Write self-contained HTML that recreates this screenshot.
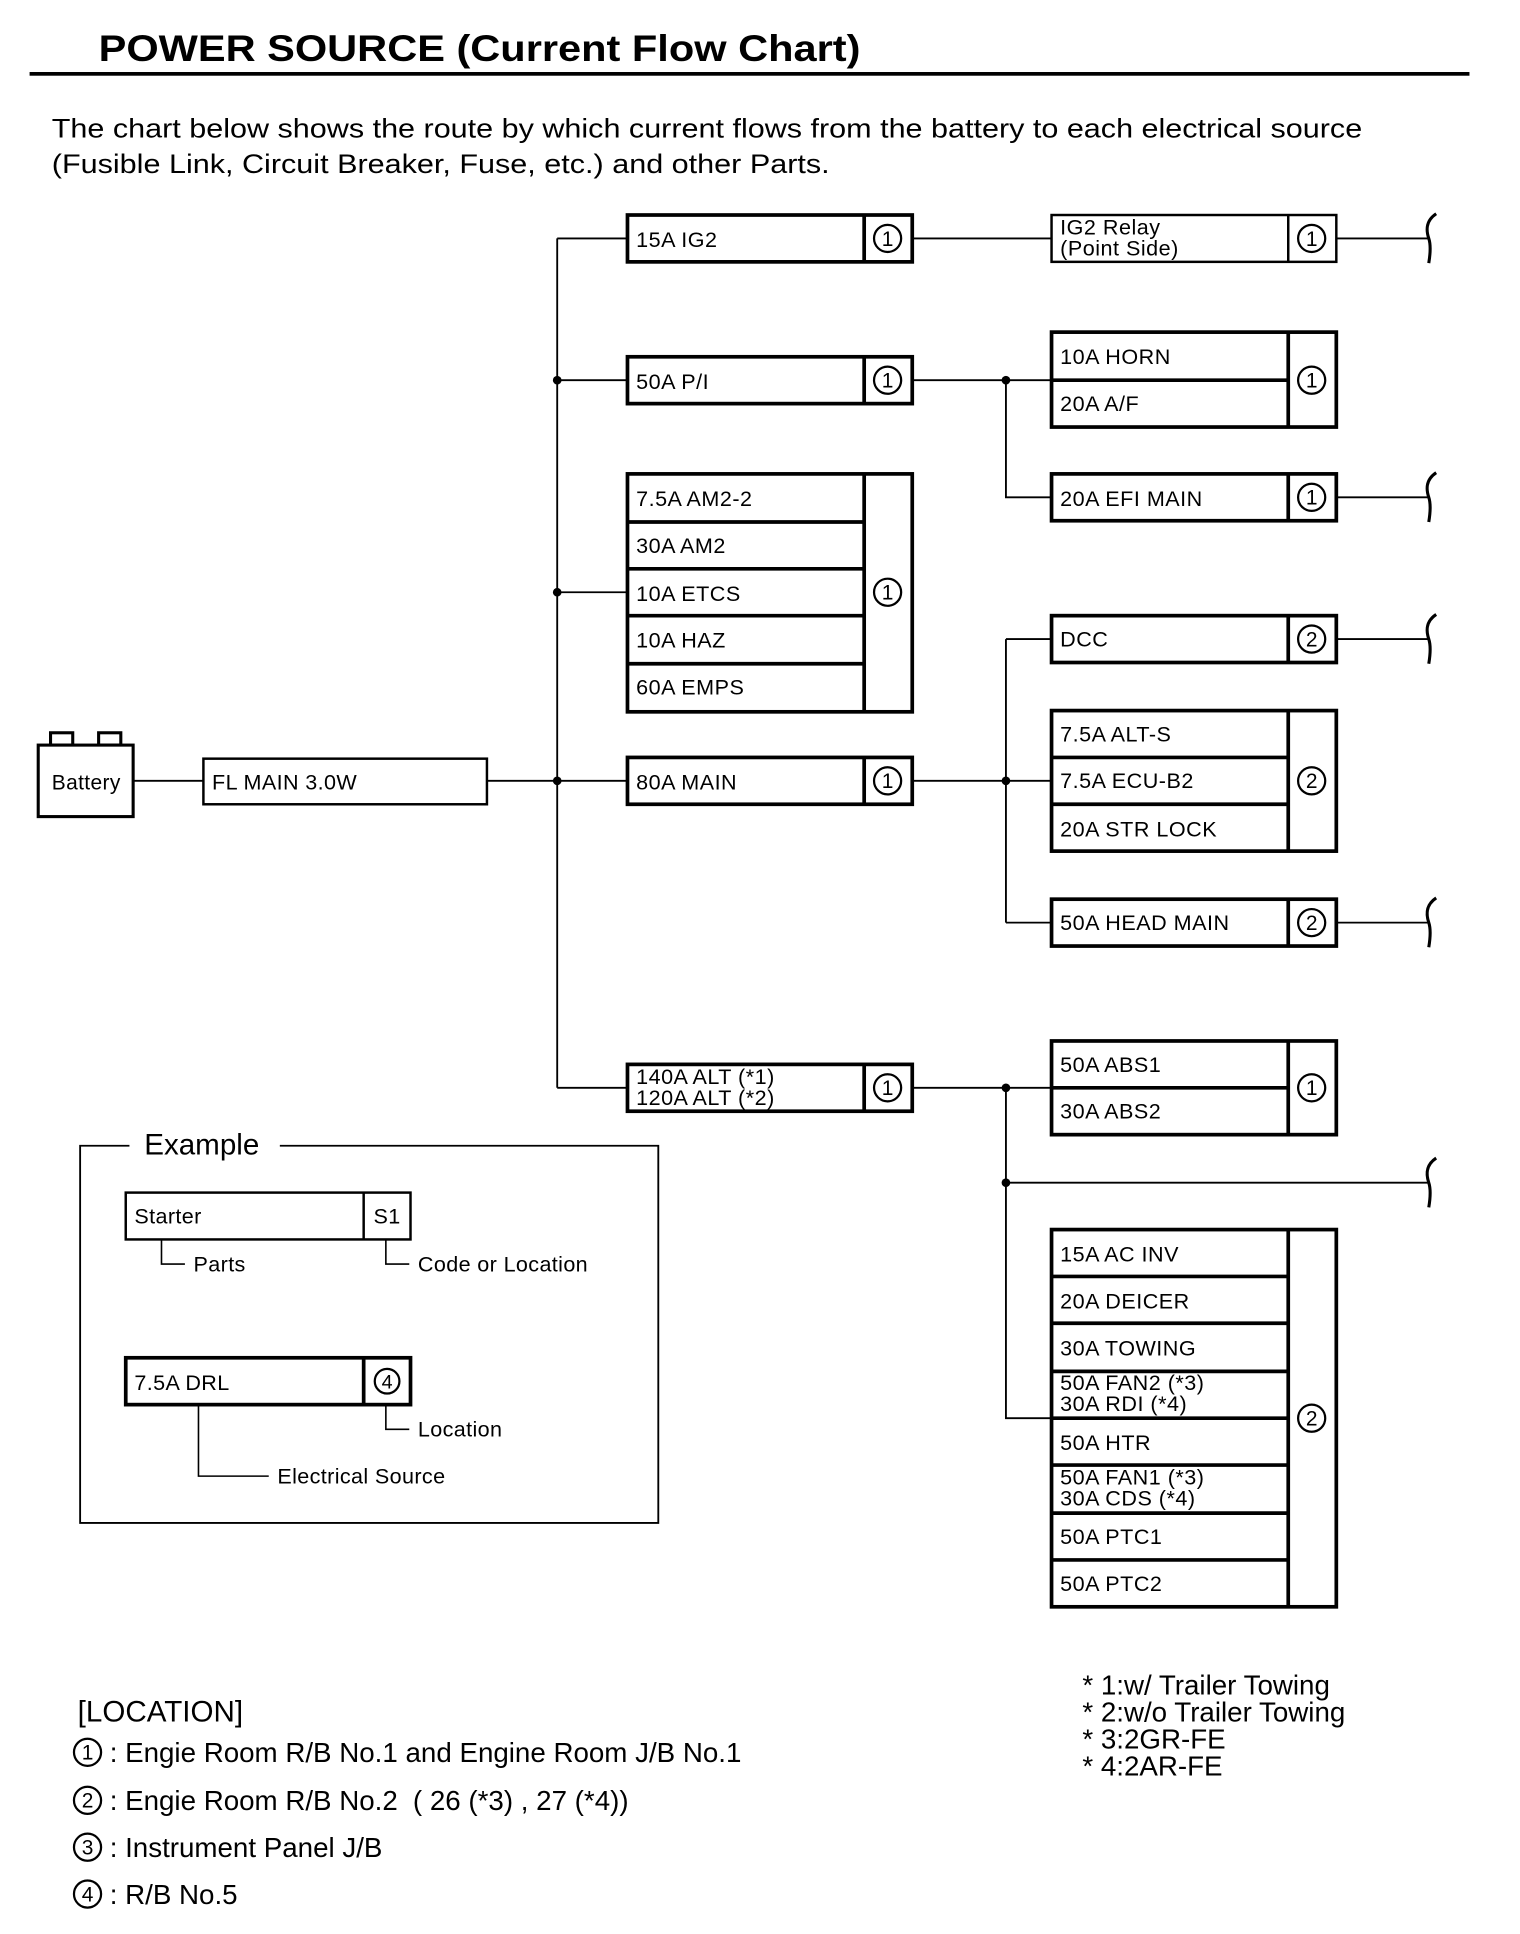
<!DOCTYPE html>
<html><head><meta charset="utf-8"><style>
html,body{margin:0;padding:0;background:#fff;}
svg{display:block}
text{font-family:"Liberation Sans",Arial,sans-serif;fill:#000}
</style></head><body>
<svg width="1520" height="1934" viewBox="0 0 1233 1568" xmlns="http://www.w3.org/2000/svg">
<defs>
<path id="sq" d="M2 -20 C-7 -14 -6 -6 -4 0 C-2 6 -3 14 -4 20" fill="none" stroke="#000" stroke-width="2.5"/>
</defs>
<text x="80" y="49" font-size="30" font-weight="bold" textLength="618" lengthAdjust="spacingAndGlyphs">POWER SOURCE (Current Flow Chart)</text>
<rect x="24" y="58" width="1168" height="3" fill="#000"/>
<text x="42" y="111" font-size="22" textLength="1063" lengthAdjust="spacingAndGlyphs">The chart below shows the route by which current flows from the battery to each electrical source</text>
<text x="42" y="140" font-size="22" textLength="631" lengthAdjust="spacingAndGlyphs">(Fusible Link, Circuit Breaker, Fuse, etc.) and other Parts.</text>

<g stroke="#000" fill="none" stroke-width="1.5">
<path d="M452 193 V882 M452 193 H509 M452 308 H509 M452 480 H509 M452 633 H509 M452 882 H509"/>
<path d="M108 633 H165 M395 633 H452"/>
<path d="M740 193 H853 M740 308 H853 M816 308 V403 H853 M740 633 H853 M816 518 V748 M816 518 H853 M816 748 H853"/>
<path d="M740 882 H853 M816 882 V1150 H853 M816 959 H1160"/>
<path d="M1084 193 H1160 M1084 403 H1160 M1084 518 H1160 M1084 748 H1160"/>
</g>
<g fill="#000">
<circle cx="452" cy="308" r="3.5"/><circle cx="452" cy="480" r="3.5"/><circle cx="452" cy="633" r="3.5"/>
<circle cx="816" cy="308" r="3.5"/><circle cx="816" cy="633" r="3.5"/><circle cx="816" cy="882" r="3.5"/><circle cx="816" cy="959" r="3.5"/>
</g>
<use href="#sq" x="1163" y="193"/><use href="#sq" x="1163" y="403"/><use href="#sq" x="1163" y="518"/><use href="#sq" x="1163" y="748"/><use href="#sq" x="1163" y="959"/>

<g stroke="#000" stroke-width="2.5" fill="#fff">
<rect x="41" y="594" width="18" height="10"/><rect x="80" y="594" width="18" height="10"/>
<rect x="31" y="604" width="77" height="58"/>
<rect x="165" y="615" width="230" height="37" stroke-width="2"/>
</g>
<g font-size="17.5" letter-spacing="0.3">
<text x="42" y="640" font-size="17">Battery</text>
<text x="172" y="640">FL MAIN 3.0W</text>
</g>

<g stroke="#000" fill="none" stroke-width="3">
<rect x="509" y="174" width="231" height="38"/><path d="M701 174 V212"/>
<rect x="509" y="289" width="231" height="38"/><path d="M701 289 V327"/>
<rect x="509" y="384" width="231" height="193"/><path d="M701 384 V577 M509 423 H701 M509 461 H701 M509 499 H701 M509 538 H701"/>
<rect x="509" y="614" width="231" height="38"/><path d="M701 614 V652"/>
<rect x="509" y="863" width="231" height="38"/><path d="M701 863 V901"/>
<rect x="853" y="174" width="231" height="38" stroke-width="2"/><path d="M1045 174 V212" stroke-width="2"/>
<rect x="853" y="269" width="231" height="77"/><path d="M1045 269 V346 M853 308 H1045"/>
<rect x="853" y="384" width="231" height="38"/><path d="M1045 384 V422"/>
<rect x="853" y="499" width="231" height="38"/><path d="M1045 499 V537"/>
<rect x="853" y="576" width="231" height="114"/><path d="M1045 576 V690 M853 614 H1045 M853 652 H1045"/>
<rect x="853" y="729" width="231" height="38"/><path d="M1045 729 V767"/>
<rect x="853" y="844" width="231" height="76"/><path d="M1045 844 V920 M853 882 H1045"/>
<rect x="853" y="997" width="231" height="306"/><path d="M1045 997 V1303 M853 1035 H1045 M853 1073 H1045 M853 1112 H1045 M853 1150 H1045 M853 1188 H1045 M853 1227 H1045 M853 1265 H1045"/>
</g>
<g stroke="#000" fill="none" stroke-width="1.8">
<circle cx="720" cy="193" r="11"/><circle cx="720" cy="308" r="11"/><circle cx="720" cy="480" r="11"/><circle cx="720" cy="633" r="11"/><circle cx="720" cy="882" r="11"/>
<circle cx="1064" cy="193" r="11"/><circle cx="1064" cy="308" r="11"/><circle cx="1064" cy="403" r="11"/><circle cx="1064" cy="518" r="11"/><circle cx="1064" cy="633" r="11"/><circle cx="1064" cy="748" r="11"/><circle cx="1064" cy="882" r="11"/><circle cx="1064" cy="1150" r="11"/>
</g>
<g font-size="17" text-anchor="middle">
<text x="720" y="199">1</text><text x="720" y="314">1</text><text x="720" y="486">1</text><text x="720" y="639">1</text><text x="720" y="888">1</text>
<text x="1064" y="199">1</text><text x="1064" y="314">1</text><text x="1064" y="409">1</text><text x="1064" y="524">2</text><text x="1064" y="639">2</text><text x="1064" y="754">2</text><text x="1064" y="888">1</text><text x="1064" y="1156">2</text>
</g>
<g font-size="17.5" letter-spacing="0.4">
<text x="516" y="200">15A IG2</text>
<text x="516" y="315">50A P/I</text>
<text x="516" y="410">7.5A AM2-2</text>
<text x="516" y="448">30A AM2</text>
<text x="516" y="487">10A ETCS</text>
<text x="516" y="525">10A HAZ</text>
<text x="516" y="563">60A EMPS</text>
<text x="516" y="640">80A MAIN</text>
<text x="516" y="879">140A ALT (*1)</text>
<text x="516" y="896">120A ALT (*2)</text>
<text x="860" y="190">IG2 Relay</text>
<text x="860" y="207">(Point Side)</text>
<text x="860" y="295">10A HORN</text>
<text x="860" y="333">20A A/F</text>
<text x="860" y="410">20A EFI MAIN</text>
<text x="860" y="524">DCC</text>
<text x="860" y="601">7.5A ALT-S</text>
<text x="860" y="639">7.5A ECU-B2</text>
<text x="860" y="678">20A STR LOCK</text>
<text x="860" y="754">50A HEAD MAIN</text>
<text x="860" y="869">50A ABS1</text>
<text x="860" y="907">30A ABS2</text>
<text x="860" y="1023">15A AC INV</text>
<text x="860" y="1061">20A DEICER</text>
<text x="860" y="1099">30A TOWING</text>
<text x="860" y="1127">50A FAN2 (*3)</text>
<text x="860" y="1144">30A RDI (*4)</text>
<text x="860" y="1176">50A HTR</text>
<text x="860" y="1204">50A FAN1 (*3)</text>
<text x="860" y="1221">30A CDS (*4)</text>
<text x="860" y="1252">50A PTC1</text>
<text x="860" y="1290">50A PTC2</text>
</g>

<path d="M105 929 H65 V1235 H534 V929 H227" stroke="#000" stroke-width="1.5" fill="none"/>
<text x="117" y="936" font-size="24">Example</text>
<g stroke="#000" fill="none">
<rect x="102" y="967" width="231" height="38" stroke-width="2"/><path d="M295 967 V1005" stroke-width="2"/>
<rect x="102" y="1101" width="231" height="38" stroke-width="3"/><path d="M295 1101 V1139" stroke-width="3"/>
<circle cx="314" cy="1120" r="10" stroke-width="1.8"/>
<path d="M131 1005 V1025 H150 M313 1005 V1025 H332 M161 1139 V1197 H218 M313 1139 V1159 H332" stroke-width="1.3"/>
</g>
<g font-size="17.5" letter-spacing="0.3">
<text x="109" y="992">Starter</text>
<text x="303" y="992">S1</text>
<text x="157" y="1031">Parts</text>
<text x="339" y="1031">Code or Location</text>
<text x="109" y="1127">7.5A DRL</text>
<text x="339" y="1165">Location</text>
<text x="225" y="1203">Electrical Source</text>
</g>
<text x="314" y="1126" text-anchor="middle" font-size="16">4</text>

<text x="63" y="1396" font-size="24">[LOCATION]</text>
<g stroke="#000" fill="none" stroke-width="1.8">
<circle cx="71" cy="1421" r="11"/><circle cx="71" cy="1460" r="11"/><circle cx="71" cy="1498" r="11"/><circle cx="71" cy="1536" r="11"/>
</g>
<g font-size="17" text-anchor="middle">
<text x="71" y="1427">1</text><text x="71" y="1466">2</text><text x="71" y="1504">3</text><text x="71" y="1542">4</text>
</g>
<g font-size="22.5">
<text x="89" y="1429">: Engie Room R/B No.1 and Engine Room J/B No.1</text>
<text x="89" y="1468">: Engie Room R/B No.2 <tspan dx="6">( 26 (*3) , 27 (*4))</tspan></text>
<text x="89" y="1506">: Instrument Panel J/B</text>
<text x="89" y="1544">: R/B No.5</text>
<text x="878" y="1374">* 1:w/ Trailer Towing</text>
<text x="878" y="1396">* 2:w/o Trailer Towing</text>
<text x="878" y="1418">* 3:2GR-FE</text>
<text x="878" y="1440">* 4:2AR-FE</text>
</g>
</svg>
</body></html>
